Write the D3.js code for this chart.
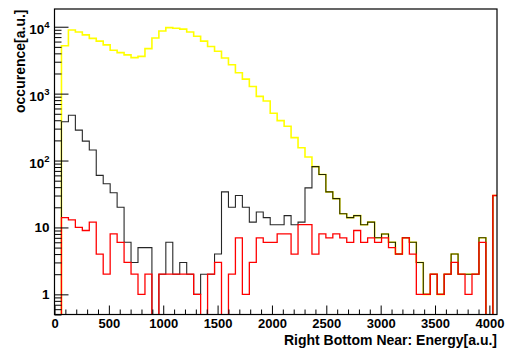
<!DOCTYPE html>
<html>
<head>
<meta charset="utf-8">
<script src="https://cdn.jsdelivr.net/npm/d3@7"></script>
<style>
  html, body { margin: 0; padding: 0; background: #fff; }
  svg { display: block; }
  text { font-family: "Liberation Sans", Arial, Helvetica, sans-serif; font-weight: bold; fill: #000; }
</style>
</head>
<body>
<div id="chart"></div>
<script>
// Energy histogram, 64-unit bins starting at 0
const binWidth = 64;
const xMax = 4070;

// all events
const allCounts = [0, 5200, 8950, 8350, 7550, 6700, 6100, 5350, 4450, 4100, 3800, 3450, 3600, 4700, 6800, 8650,
  9700, 9500, 9200, 8350, 7200, 6100, 5050, 4300, 3400, 2700, 2050, 1650, 1280, 910, 775, 510,
  395, 325, 220, 155, 113, 81, 62, 34, 27, 16, 14, 15, 11, 12, 7, 8,
  6, 4, 7, 6, 3, 1, 2, 1, 2, 4, 2, 2, 2, 7, 0, 30];
// first selection
const selCounts = [0, 380, 475, 285, 195, 144, 60, 45, 33, 20, 6, 3, 5, 5, 0, 2,
  6, 2, 3, 2, 1, 2, 2, 4, 34, 20, 30, 20, 12, 17, 14, 11,
  11, 15, 11, 12, 39, 81, 62, 34, 27, 16, 14, 15, 11, 12, 7, 8,
  6, 4, 7, 6, 3, 1, 2, 1, 2, 4, 2, 2, 2, 7, 0, 30];
// second selection
const tightCounts = [0, 14, 13, 10, 9, 12, 4, 2, 8, 6, 3, 2, 1, 2, 0, 2,
  2, 2, 2, 2, 1, 0, 2, 3, 0, 2, 7, 1, 3, 7, 6, 6,
  8, 8, 4, 11, 11, 4, 8, 7, 8, 7, 6, 9, 6, 7, 6, 7,
  5, 4, 7, 4, 1, 1, 2, 1, 2, 3, 2, 1, 2, 6, 0, 30];

const xMajorTicks = [0, 500, 1000, 1500, 2000, 2500, 3000, 3500, 4000];
const yMajorTicks = [1, 10, 100, 1000, 10000];
const yTickLabels = [["1", ""], ["10", ""], ["10", "2"], ["10", "3"], ["10", "4"]];
const xTitle = "Right Bottom Near: Energy[a.u.]";
const yTitle = "occurence[a.u.]";

const W = 507, H = 351;
const frame = { left: 54.5, top: 9, right: 497, bottom: 314.5 };

const svg = d3.select("#chart").append("svg").attr("width", W).attr("height", H);

const x = d3.scaleLinear().domain([0, xMax]).range([frame.left, frame.right]);
const y = d3.scaleLog().domain([0.5, 18400]).range([frame.bottom, frame.top]);

svg.append("defs").append("clipPath").attr("id", "frameClip")
  .append("rect")
  .attr("x", frame.left).attr("y", frame.top)
  .attr("width", frame.right - frame.left).attr("height", frame.bottom - frame.top);

// step outline of one histogram; empty bins drop below the frame
function stepPath(counts) {
  const pts = counts.map((c, i) => [i * binWidth, c]);
  pts.push([counts.length * binWidth, counts[counts.length - 1]]);
  pts.unshift([0, 0]);
  return d3.line()
    .x(d => x(d[0]))
    .y(d => d[1] > 0 ? y(d[1]) : frame.bottom + 3)
    .curve(d3.curveStepAfter)(pts);
}

const plot = svg.append("g").attr("clip-path", "url(#frameClip)");
const series = [
  { counts: allCounts, color: "#ffff00", width: 1.6 },
  { counts: selCounts, color: "#000000", width: 1.1, opacity: 0.85 },
  { counts: tightCounts, color: "#ff0000", width: 1.3 }
];
series.forEach(s => {
  plot.append("path")
    .attr("d", stepPath(s.counts))
    .attr("fill", "none")
    .attr("stroke", s.color)
    .attr("stroke-opacity", s.opacity || 1)
    .attr("stroke-width", s.width);
});

// frame
svg.append("rect")
  .attr("x", frame.left).attr("y", frame.top)
  .attr("width", frame.right - frame.left).attr("height", frame.bottom - frame.top)
  .attr("fill", "none").attr("stroke", "#000").attr("stroke-width", 1.2);

// x axis: major and minor ticks pointing into the frame
const xMinor = d3.range(100, xMax, 100).filter(v => v % 500 !== 0);
const xAxisMinor = d3.axisBottom(x).tickValues(xMinor).tickSize(-5).tickFormat("");
const xAxisMajor = d3.axisBottom(x).tickValues(xMajorTicks).tickSize(-9).tickPadding(4.5).tickFormat(d3.format("d"));

const gxm = svg.append("g").attr("transform", `translate(0,${frame.bottom})`).call(xAxisMinor);
const gx = svg.append("g").attr("transform", `translate(0,${frame.bottom})`).call(xAxisMajor);
[gxm, gx].forEach(g => {
  g.select(".domain").remove();
  g.selectAll("line").attr("stroke", "#000").attr("stroke-width", 1);
});
gx.selectAll("text").attr("font-size", "13px").attr("font-family", "Liberation Sans, Arial, sans-serif").attr("font-weight", "bold");

// y axis: log ticks
const yMinor = [];
[0.1, 1, 10, 100, 1000, 10000].forEach(dec => {
  for (let k = 2; k <= 9; k++) {
    const v = k * dec;
    if (v >= 0.5 && v <= 18400) yMinor.push(v);
  }
});
const yAxisMinor = d3.axisLeft(y).tickValues(yMinor).tickSize(-7).tickFormat("");
const yAxisMajor = d3.axisLeft(y).tickValues(yMajorTicks).tickSize(-14).tickPadding(5).tickFormat("");

const gym = svg.append("g").attr("transform", `translate(${frame.left},0)`).call(yAxisMinor);
const gy = svg.append("g").attr("transform", `translate(${frame.left},0)`).call(yAxisMajor);
[gym, gy].forEach(g => {
  g.select(".domain").remove();
  g.selectAll("line").attr("stroke", "#000").attr("stroke-width", 1);
});

// y tick labels with powers of ten as superscripts
gy.selectAll(".tick").each(function(d) {
  const lab = yTickLabels[yMajorTicks.indexOf(d)];
  const t = d3.select(this).select("text")
    .attr("font-size", "13.5px")
    .attr("text-anchor", "end")
    .attr("x", -5);
  t.text(null);
  if (lab[1]) {
    t.attr("dy", "0.32em").attr("transform", "translate(0,2.5)");
    t.append("tspan").text(lab[0]);
    t.append("tspan").attr("font-size", "9.5px").attr("dy", "-6").text(lab[1]);
  } else {
    t.attr("dy", "0.32em");
    t.append("tspan").text(lab[0]);
  }
});

// axis titles
svg.append("text")
  .attr("x", frame.right).attr("y", 345)
  .attr("text-anchor", "end")
  .attr("font-size", "14px")
  .text(xTitle);

svg.append("text")
  .attr("transform", `translate(24.5,${frame.top + 0.5}) rotate(-90)`)
  .attr("text-anchor", "end")
  .attr("font-size", "14px")
  .text(yTitle);
</script>
</body>
</html>
